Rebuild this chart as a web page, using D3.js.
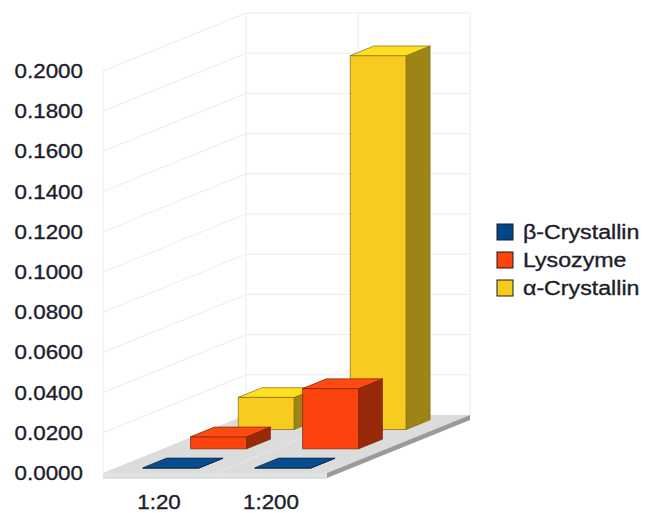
<!DOCTYPE html>
<html>
<head>
<meta charset="utf-8">
<script src="https://cdn.jsdelivr.net/npm/d3@7"></script>
<style>
  html, body { margin: 0; padding: 0; background: #fff; }
  svg { display: block; }
  text { font-family: "Liberation Sans", Arial, sans-serif; fill: #1d1d2b; stroke: #1d1d2b; stroke-width: 0.35px; }
</style>
</head>
<body>
<svg id="chart" width="646" height="513"></svg>
<script>
// Categories (dilution ratios) and series (proteins)
const categories = ["1:20", "1:200"];
const seriesNames = ["β-Crystallin", "Lysozyme", "α-Crystallin"];

// Values per series, one entry per category
const betaCrystallin = [0.0002, 0.0002];
const lysozyme = [0.006, 0.030];
const alphaCrystallin = [0.016, 0.186];

// Value axis ticks
const yTicks = [0, 0.02, 0.04, 0.06, 0.08, 0.10, 0.12, 0.14, 0.16, 0.18, 0.20];

const seriesValues = [betaCrystallin, lysozyme, alphaCrystallin];
const palette = [
  { front: "#004586", top: "#0a4d8f", side: "#002c57", edge: "#00264d" },
  { front: "#fc430e", top: "#ff4b12", side: "#992a09", edge: "#7a2006" },
  { front: "#f7cb1f", top: "#ffdf20", side: "#9e8415", edge: "#806a10" }
];

const svg = d3.select("#chart");

// Oblique 3D layout: the floor front edge runs along x, depth recedes up-right
const x = d3.scaleBand().domain(categories).range([103, 327]);
const depth = d3.scaleBand().domain(seriesNames).range([0, 1]);
const y = d3.scaleLinear().domain([0, 0.2]).range([473, 71]);
const DX = 143, DY = -58;           // full-depth offset on screen
const floorThick = 5;

const proj = (px, v, d) => [px + d * DX, y(v) + d * DY];
const poly = pts => "M" + pts.map(p => p.join(",")).join("L") + "Z";
const line = pts => "M" + pts.map(p => p.join(",")).join("L");

const [xL, xR] = x.range();

// Walls
const walls = svg.append("g");
walls.append("path")
  .attr("d", poly([proj(xL, 0, 0), proj(xL, 0.2, 0), proj(xL, 0.2, 1), proj(xL, 0, 1)]))
  .attr("fill", "#fff");
walls.append("path")
  .attr("d", poly([proj(xL, 0, 1), proj(xL, 0.2, 1), proj(xR, 0.2, 1), proj(xR, 0, 1)]))
  .attr("fill", "#fff");

const grid = svg.append("g").attr("stroke", "#ececec").attr("stroke-width", 1).attr("fill", "none");
// Left wall gridlines
grid.selectAll(".gl").data(yTicks.slice(1)).join("path")
  .attr("d", v => line([proj(xL, v, 0), proj(xL, v, 1)]));
// Back wall gridlines
grid.selectAll(".gb").data(yTicks.slice(1)).join("path")
  .attr("d", v => line([proj(xL, v, 1), proj(xR, v, 1)]));
// Vertical wall edges and category divider on the back wall
const verticals = [[xL, 0], [xL, 1], [x(categories[1]), 1], [xR, 1]];
grid.selectAll(".gv").data(verticals).join("path")
  .attr("d", ([px, d]) => line([proj(px, 0, d), proj(px, 0.2, d)]));

// Floor
const floor = svg.append("g");
floor.append("path")
  .attr("d", poly([proj(xL, 0, 0), proj(xR, 0, 0), proj(xR, 0, 1), proj(xL, 0, 1)]))
  .attr("fill", "#dcdcdc");
floor.append("path")
  .attr("d", line([proj(x(categories[1]), 0, 0), proj(x(categories[1]), 0, 1)]))
  .attr("stroke", "#e6e6e6").attr("fill", "none");
const fl = proj(xL, 0, 0), fr = proj(xR, 0, 0), br = proj(xR, 0, 1);
floor.append("path")
  .attr("d", poly([fl, fr, [fr[0], fr[1] + floorThick], [fl[0], fl[1] + floorThick]]))
  .attr("fill", "#e3e3e3");
floor.append("path")
  .attr("d", line([[fl[0], fl[1] + floorThick], [fr[0], fr[1] + floorThick]]))
  .attr("stroke", "#cfcfcf").attr("fill", "none");
floor.append("path")
  .attr("d", poly([fr, br, [br[0], br[1] + floorThick], [fr[0], fr[1] + floorThick]]))
  .attr("fill", "#9a9a9a");

// Bars, drawn back row first so nearer boxes cover farther ones
const bars = [];
seriesNames.forEach((s, si) => {
  categories.forEach((c, ci) => {
    bars.push({ s, si, c, v: seriesValues[si][ci] });
  });
});
bars.sort((a, b) => b.si - a.si);

const barG = svg.append("g").attr("stroke-width", 0.7).attr("stroke-linejoin", "round");
bars.forEach(b => {
  const bw = x.bandwidth() * 0.5;
  const x0 = x(b.c) + (x.bandwidth() - bw) / 2, x1 = x0 + bw;
  const dd = depth.bandwidth() * 0.5;
  const d0 = depth(b.s) + (depth.bandwidth() - dd) / 2, d1 = d0 + dd;
  const col = palette[b.si];
  const g = barG.append("g").attr("stroke", col.edge);
  g.append("path").attr("fill", col.front)
    .attr("d", poly([proj(x0, 0, d0), proj(x1, 0, d0), proj(x1, b.v, d0), proj(x0, b.v, d0)]));
  g.append("path").attr("fill", col.side)
    .attr("d", poly([proj(x1, 0, d0), proj(x1, 0, d1), proj(x1, b.v, d1), proj(x1, b.v, d0)]));
  g.append("path").attr("fill", col.top)
    .attr("d", poly([proj(x0, b.v, d0), proj(x1, b.v, d0), proj(x1, b.v, d1), proj(x0, b.v, d1)]));
});

// Value axis labels
const fmt = d3.format(".4f");
const textScale = 1.12;
svg.append("g").selectAll("text").data(yTicks).join("text")
  .attr("transform", v => `translate(83,${y(v)}) scale(${textScale},1)`)
  .attr("text-anchor", "end")
  .attr("dy", "0.35em")
  .attr("font-size", 20)
  .text(v => fmt(v));

// Category labels
svg.append("g").selectAll("text").data(categories).join("text")
  .attr("transform", c => `translate(${x(c) + x.bandwidth() / 2},${502}) scale(${textScale},1)`)
  .attr("text-anchor", "middle")
  .attr("dy", "0.35em")
  .attr("font-size", 20)
  .text(c => c);

// Legend
const legend = svg.append("g").attr("transform", "translate(497,224)");
const li = legend.selectAll("g").data(seriesNames).join("g")
  .attr("transform", (d, i) => `translate(0,${i * 28})`);
li.append("rect").attr("width", 16).attr("height", 16)
  .attr("fill", (d, i) => palette[i].front).attr("stroke", "#1a1a1a").attr("stroke-width", 1);
li.append("text")
  .attr("transform", `translate(26,8) scale(1.16,1)`)
  .attr("dy", "0.35em")
  .attr("font-size", 20)
  .text(d => d);
</script>
</body>
</html>
